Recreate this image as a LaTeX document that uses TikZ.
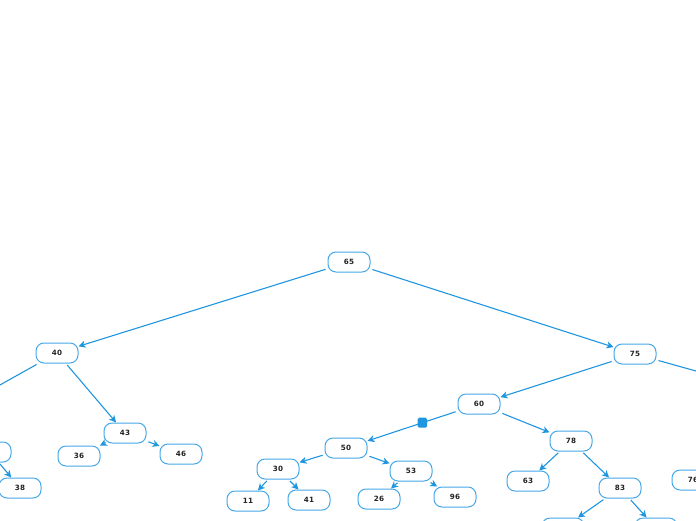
\documentclass[tikz,border=0pt]{standalone}
\usepackage{fontspec}
\setmainfont{DejaVu Sans}
\usetikzlibrary{arrows.meta}
\definecolor{edgeblue}{RGB}{33,150,224}
\definecolor{boxblue}{RGB}{70,168,232}
\definecolor{txt}{RGB}{34,34,34}
\tikzset{
  tnode/.style={draw=boxblue, line width=1pt, rounded corners=8pt, fill=white,
    minimum width=42pt, minimum height=20pt, inner sep=0pt,
    font=\fontsize{7.2}{8}\selectfont\bfseries, text=txt},
  link/.style={draw=edgeblue, line width=1.1pt, shorten <=2pt, shorten >=0pt,
    -{Stealth[length=7pt,width=7pt,inset=2pt]}},
  sqmark/.style={fill=edgeblue, rounded corners=1.5pt, minimum width=9.5pt,
    minimum height=10pt, inner sep=0pt}
}
\begin{document}
\begin{tikzpicture}[x=1pt,y=-1pt]
\useasboundingbox (0,0) rectangle (696,520);
\clip (0,0) rectangle (696,520);
\fill[white] (0,0) rectangle (696,520);
% nodes
\node[tnode] (n65) at (349,262) {65};
\node[tnode] (n40) at (57,353) {40};
\node[tnode] (n75) at (635,354) {75};
\node[tnode] (n60) at (479,404) {60};
\node[tnode] (n43) at (125,433) {43};
\node[tnode] (n36) at (79,456) {36};
\node[tnode] (n46) at (181,454) {46};
\node[tnode] (nl) at (-10,452) {};
\node[tnode] (n38) at (20,488) {38};
\node[tnode] (n50) at (346,448) {50};
\node[tnode] (n30) at (278,469) {30};
\node[tnode] (n11) at (248,501) {11};
\node[tnode] (n41) at (309,500) {41};
\node[tnode] (n53) at (411,471) {53};
\node[tnode] (n26) at (379,499) {26};
\node[tnode] (n96) at (455,497) {96};
\node[tnode] (n78) at (571,441) {78};
\node[tnode] (n63) at (528,481) {63};
\node[tnode] (n83) at (620,488) {83};
\node[tnode] (n76) at (693,480) {76};
\node[tnode] (nb1) at (563,528) {};
\node[tnode] (nb2) at (656,528) {};
\coordinate (offL) at (-100,441);
\coordinate (offR) at (800,400);
% links
\draw[link] (n65) -- (n40);
\draw[link] (n65) -- (n75);
\draw[link] (n40) -- (offL);
\draw[link] (n40) -- (n43);
\draw[link] (n43) -- (n36);
\draw[link] (n43) -- (n46);
\draw[link] (nl) -- (n38);
\draw[link] (n75) -- (n60);
\draw[link] (n75) -- (offR);
\draw[link] (n60) -- node[pos=0.39, sqmark] (sq) {} (n50);
\draw[link] (n60) -- (n78);
\draw[link] (n50) -- (n30);
\draw[link] (n50) -- (n53);
\draw[link] (n30) -- (n11);
\draw[link] (n30) -- (n41);
\draw[link] (n53) -- (n26);
\draw[link] (n53) -- (n96);
\draw[link] (n78) -- (n63);
\draw[link] (n78) -- (n83);
\draw[link] (n83) -- (nb1);
\draw[link] (n83) -- (nb2);
\end{tikzpicture}
\end{document}
